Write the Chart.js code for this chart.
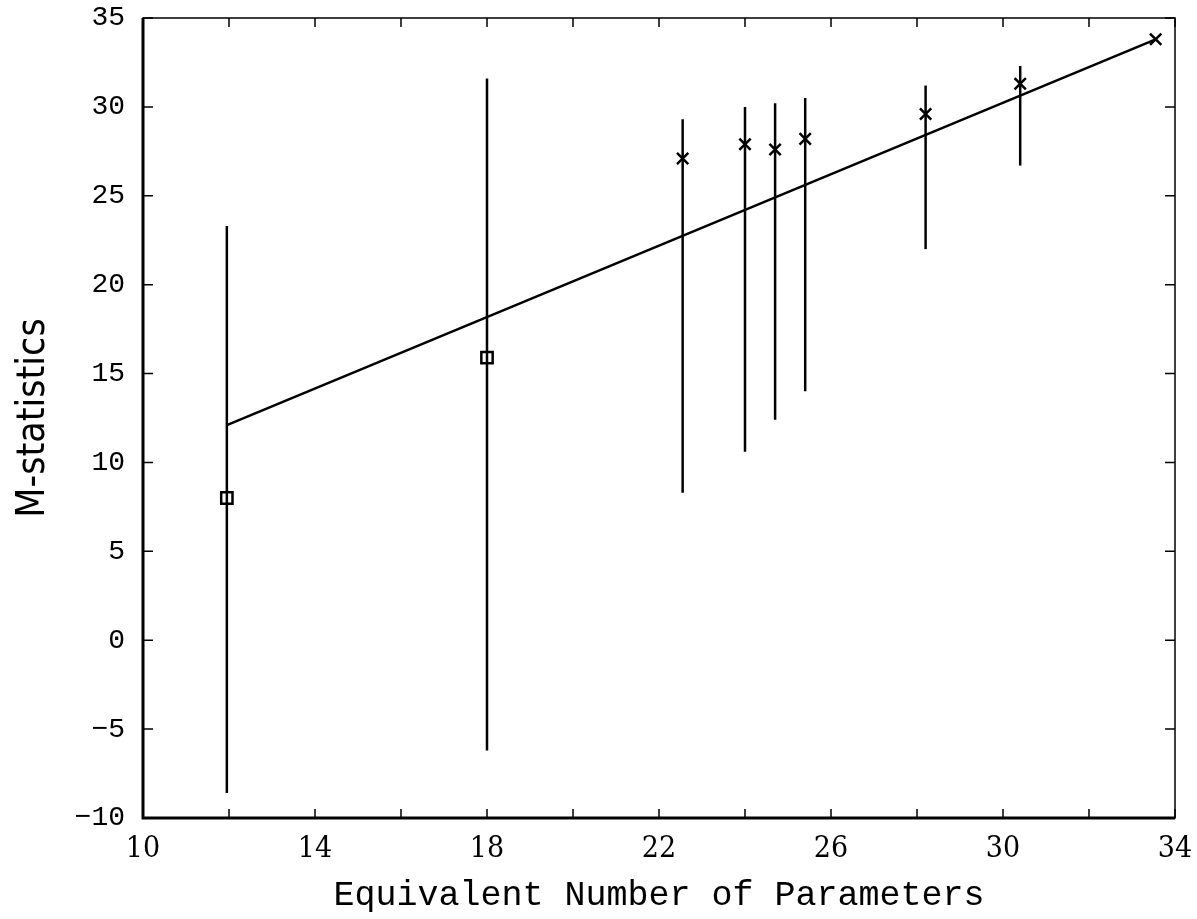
<!DOCTYPE html>
<html>
<head>
<meta charset="utf-8">
<script src="https://cdn.jsdelivr.net/npm/chart.js@4.4.0/dist/chart.umd.min.js"></script>
<style>
  html, body { margin: 0; padding: 0; background: #fff; }
  #wrap { width: 1197px; height: 919px; }
</style>
</head>
<body>
<div id="wrap"><canvas id="mChart" width="1197" height="919"></canvas></div>
<script>
// values
const paramCount = [11.95, 18.0, 22.55, 24.0, 24.7, 25.4, 28.2, 30.4, 33.55];
const mStat      = [8.0, 15.9, 27.1, 27.9, 27.6, 28.2, 29.6, 31.3, 33.8];
const errLow     = [-8.6, -6.2, 8.3, 10.6, 12.4, 14.0, 22.0, 26.7, null];
const errHigh    = [23.3, 31.6, 29.3, 30.0, 30.2, 30.5, 31.2, 32.3, null];
const fitX = [11.95, 33.55];
const fitY = [12.1, 33.8];
const xTicks = [10, 14, 18, 22, 26, 30, 34];
const yTicks = [-10, -5, 0, 5, 10, 15, 20, 25, 30, 35];

const ink = '#000';

const datasets = [];

// fitted line
datasets.push({
    type: 'line',
    data: fitX.map((x, i) => ({ x: x, y: fitY[i] })),
    borderColor: ink,
    borderWidth: 2.5,
    pointRadius: 0,
    fill: false
});

// vertical error bars
paramCount.forEach((x, i) => {
    if (errLow[i] === null) return;
    datasets.push({
        type: 'line',
        data: [{ x: x, y: errLow[i] }, { x: x, y: errHigh[i] }],
        borderColor: ink,
        borderWidth: 2.5,
        pointRadius: 0,
        fill: false
    });
});

// markers: squares for first two, crosses for the rest
datasets.push({
    type: 'scatter',
    data: paramCount.slice(0, 2).map((x, i) => ({ x: x, y: mStat[i] })),
    pointStyle: 'rect',
    pointRadius: 8,
    pointBackgroundColor: '#fff',
    pointBorderColor: ink,
    pointBorderWidth: 2.5
});
datasets.push({
    type: 'scatter',
    data: paramCount.slice(2).map((x, i) => ({ x: x, y: mStat[i + 2] })),
    pointStyle: 'crossRot',
    pointRadius: 8,
    pointBorderColor: ink,
    pointBorderWidth: 2.5
});

// frame plus inward ticks on all four sides
const framePlugin = {
    id: 'frame',
    afterDraw(chart) {
        const { ctx, chartArea: a, scales } = chart;
        ctx.save();
        ctx.strokeStyle = ink;
        ctx.lineWidth = 1.5;
        for (let v = 10; v <= 34; v += 2) {
            const px = scales.x.getPixelForValue(v);
            ctx.beginPath();
            ctx.moveTo(px, a.bottom); ctx.lineTo(px, a.bottom - 9);
            ctx.moveTo(px, a.top); ctx.lineTo(px, a.top + 9);
            ctx.stroke();
        }
        yTicks.forEach(v => {
            const py = scales.y.getPixelForValue(v);
            ctx.beginPath();
            ctx.moveTo(a.left, py); ctx.lineTo(a.left + 10, py);
            ctx.moveTo(a.right, py); ctx.lineTo(a.right - 10, py);
            ctx.stroke();
        });
        ctx.lineWidth = 1.5;
        ctx.strokeRect(a.left, a.top, a.right - a.left, a.bottom - a.top);
        ctx.lineWidth = 3;
        ctx.beginPath();
        ctx.moveTo(a.left, a.top); ctx.lineTo(a.left, a.bottom); ctx.lineTo(a.right, a.bottom);
        ctx.stroke();
        ctx.restore();
    }
};

new Chart(document.getElementById('mChart').getContext('2d'), {
    type: 'scatter',
    data: { datasets: datasets },
    options: {
        responsive: false,
        animation: false,
        layout: { padding: { left: 0, right: 22, top: 18, bottom: 0 } },
        plugins: { legend: { display: false }, tooltip: { enabled: false } },
        scales: {
            x: {
                type: 'linear',
                min: 10, max: 34,
                afterFit(scale) {
                    scale.height = 101;
                    scale.paddingLeft = 0;
                    scale.paddingRight = 0;
                },
                afterBuildTicks(scale) { scale.ticks = xTicks.map(v => ({ value: v })); },
                grid: { display: false, drawTicks: false },
                border: { display: false },
                ticks: {
                    padding: 13,
                    color: ink,
                    font: { family: 'DejaVu Serif Condensed', size: 30 }
                },
                title: {
                    display: true,
                    text: 'Equivalent Number of Parameters',
                    color: ink,
                    font: { family: 'Liberation Mono', size: 35 },
                    padding: { top: 4, bottom: 2 }
                }
            },
            y: {
                type: 'linear',
                min: -10, max: 35,
                afterFit(scale) {
                    scale.width = 143;
                    scale.paddingTop = 0;
                    scale.paddingBottom = 0;
                },
                afterBuildTicks(scale) { scale.ticks = yTicks.map(v => ({ value: v })); },
                grid: { display: false, drawTicks: false },
                border: { display: false },
                ticks: {
                    padding: 18,
                    color: ink,
                    font: { family: 'Liberation Mono', size: 28 },
                    callback: v => v < 0 ? '\u2212' + Math.abs(v) : String(v)
                },
                title: {
                    display: true,
                    text: 'M-statistics',
                    color: ink,
                    font: { family: 'DejaVu Sans Condensed', size: 39 },
                    padding: { top: 10, bottom: 0 }
                }
            }
        }
    },
    plugins: [framePlugin]
});
</script>
</body>
</html>
